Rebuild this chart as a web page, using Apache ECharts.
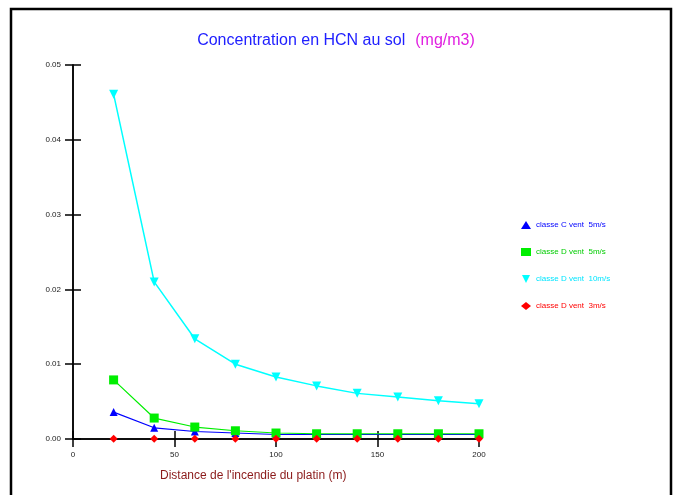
<!DOCTYPE html>
<html><head><meta charset="utf-8">
<script src="https://cdn.jsdelivr.net/npm/echarts@6/dist/echarts.min.js"></script>
<style>html,body{margin:0;padding:0;background:#fff}#c{width:678px;height:495px}</style>
</head><body><div id="c"></div>
<script>
const distances = [20, 40, 60, 80, 100, 120, 140, 160, 180, 200];
const classeC5 = [0.0036, 0.0015, 0.0010, 0.0008, 0.0006, 0.0006, 0.0006, 0.0006, 0.0006, 0.0006];
const classeD5 = [0.0079, 0.0028, 0.0016, 0.0011, 0.0008, 0.0007, 0.0007, 0.0007, 0.0007, 0.0007];
const classeD10 = [0.0461, 0.0210, 0.0134, 0.0100, 0.0083, 0.0071, 0.0061, 0.0056, 0.0051, 0.0047];
const classeD3 = [0.00003, 0.00003, 0.00003, 0.00003, 0.00003, 0.00003, 0.00003, 0.00003, 0.00003, 0.00003];
const seriesNames = ['classe C vent  5m/s', 'classe D vent  5m/s', 'classe D vent  10m/s', 'classe D vent  3m/s'];
const xTicks = [0, 50, 100, 150, 200];
const yTicks = [0, 0.01, 0.02, 0.03, 0.04, 0.05];

const pairs = arr => distances.map((d, i) => [d, arr[i]]);
const font = 'Liberation Sans, Arial, sans-serif';
const chart = echarts.init(document.getElementById('c'));
const axBase = {
  type: 'value', min: 0,
  splitLine: { show: false },
  axisLine: { show: true, lineStyle: { color: '#000', width: 1.5 } },
  axisTick: { show: true, length: 8, lineStyle: { color: '#000', width: 1.5 } }
};
chart.setOption({
  animation: false,
  backgroundColor: '#fff',
  textStyle: { fontFamily: font },
  title: {
    text: '{a|Concentration en HCN au sol}  {b|(mg/m3)}',
    left: 331, top: 27, textAlign: 'center',
    textStyle: { fontWeight: 'normal', rich: {
      a: { color: '#2020ff', fontSize: 16, fontWeight: 'normal', fontFamily: font },
      b: { color: '#e020e0', fontSize: 16, fontWeight: 'normal', fontFamily: font }
    } }
  },
  grid: { left: 73, right: 199, top: 65, bottom: 56 },
  xAxis: [
    Object.assign({}, axBase, {
      max: 200, interval: 50,
      axisLabel: { fontSize: 8, color: '#222', margin: 12, fontFamily: font }
    }),
    Object.assign({}, axBase, {
      max: 200, interval: 50, position: 'bottom', gridIndex: 0,
      axisLabel: { show: false }, axisTick: { show: true, inside: true, length: 8, lineStyle: { color: '#000', width: 1.5 } }
    })
  ],
  yAxis: [
    Object.assign({}, axBase, {
      max: 0.05, interval: 0.01,
      axisLabel: { fontSize: 8, color: '#222', margin: 12, fontFamily: font, formatter: v => v.toFixed(2) }
    }),
    Object.assign({}, axBase, {
      max: 0.05, interval: 0.01, position: 'left',
      axisLabel: { show: false }, axisTick: { show: true, inside: true, length: 8, lineStyle: { color: '#000', width: 1.5 } }
    })
  ],
  legend: {
    orient: 'vertical', left: 516, top: 216, itemGap: 19,
    itemWidth: 10, itemHeight: 8,
    textStyle: { fontSize: 8, fontFamily: font },
    data: [
      { name: seriesNames[0], icon: 'triangle', textStyle: { color: '#0000ff' } },
      { name: seriesNames[1], icon: 'rect', textStyle: { color: '#00cc00' } },
      { name: seriesNames[2], icon: 'path://M0,0 L10,0 L5,10 Z', textStyle: { color: '#00e5ff' } },
      { name: seriesNames[3], icon: 'diamond', textStyle: { color: '#ff0000' } }
    ]
  },
  graphic: [
    { type: 'rect', shape: { x: 11, y: 9, width: 660, height: 500 }, style: { fill: 'none', stroke: '#000', lineWidth: 2.5 }, silent: true },
    { type: 'text', left: 160, top: 470, style: { text: "Distance de l'incendie du platin (m)", fill: '#8b1a1a', font: '12px ' + font } }
  ],
  series: [
    { name: seriesNames[0], type: 'line', data: pairs(classeC5), color: '#0000ff', symbol: 'triangle', symbolSize: 8, lineStyle: { width: 1.2 }, itemStyle: { color: '#0000ff' } },
    { name: seriesNames[1], type: 'line', data: pairs(classeD5), color: '#00ee00', symbol: 'rect', symbolSize: 9, lineStyle: { width: 1.2 }, itemStyle: { color: '#00ee00' } },
    { name: seriesNames[2], type: 'line', data: pairs(classeD10), color: '#00ffff', symbol: 'triangle', symbolRotate: 180, symbolSize: 9, lineStyle: { width: 1.5 }, itemStyle: { color: '#00ffff' } },
    { name: seriesNames[3], type: 'line', data: pairs(classeD3), color: '#ff0000', symbol: 'diamond', symbolSize: 8, lineStyle: { width: 0 }, itemStyle: { color: '#ff0000' } }
  ]
});
</script></body></html>
